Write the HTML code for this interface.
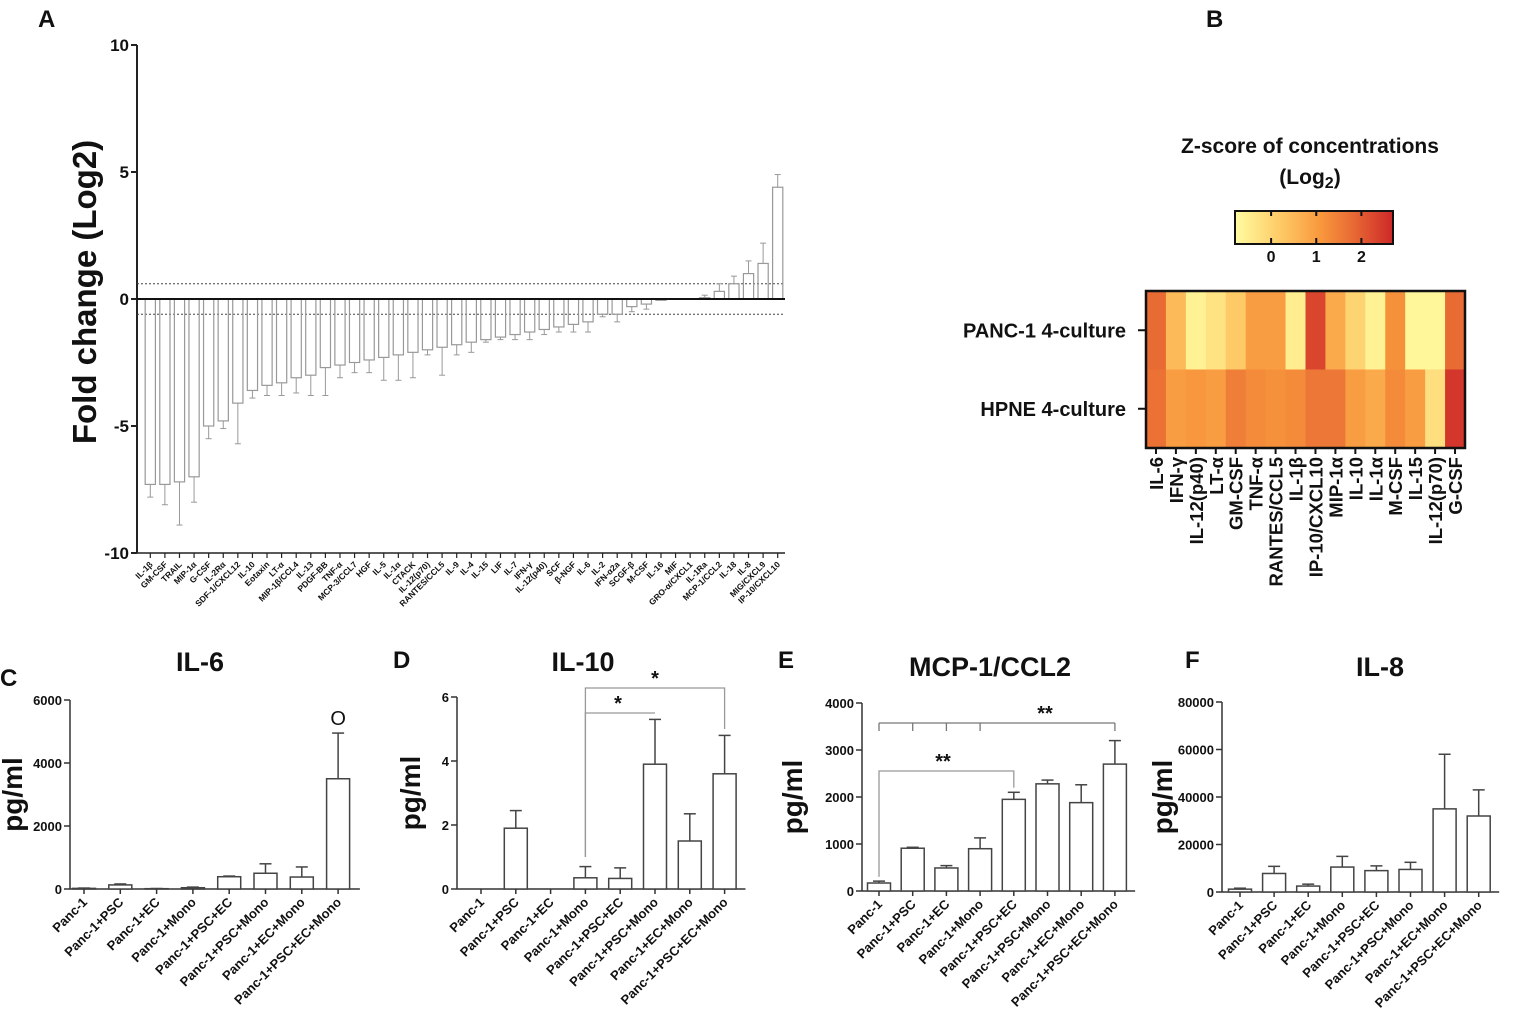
<!DOCTYPE html>
<html><head><meta charset="utf-8">
<style>
body{margin:0;background:#fff;width:1535px;height:1020px;overflow:hidden;font-family:"Liberation Sans",Arial,sans-serif}
svg{position:absolute;left:0;top:0}
text{font-family:"Liberation Sans",Arial,sans-serif;font-weight:bold;fill:#111}
</style></head><body>
<svg id="s" width="1535" height="1020" xmlns="http://www.w3.org/2000/svg"></svg>
<script>
// Panel A data
const aCats=["IL-1β","GM-CSF","TRAIL","MIP-1α","G-CSF","IL-2Rα","SDF-1/CXCL12","IL-10","Eotaxin","LT-α","MIP-1β/CCL4","IL-13","PDGF-BB","TNF-α","MCP-3/CCL7","HGF","IL-5","IL-1α","CTACK","IL-12(p70)","RANTES/CCL5","IL-9","IL-4","IL-15","LIF","IL-7","IFN-γ","IL-12(p40)","SCF","β-NGF","IL-6","IL-2","IFN-α2a","SCGF-β","M-CSF","IL-16","MIF","GRO-α/CXCL1","IL-1Ra","MCP-1/CCL2","IL-18","IL-8","MIG/CXCL9","IP-10/CXCL10"];
const aVals=[-7.3,-7.3,-7.2,-7.0,-5.0,-4.8,-4.1,-3.6,-3.4,-3.3,-3.1,-3.0,-2.7,-2.6,-2.5,-2.4,-2.3,-2.2,-2.1,-2.0,-1.9,-1.8,-1.7,-1.6,-1.5,-1.4,-1.3,-1.2,-1.1,-1.0,-0.9,-0.6,-0.6,-0.3,-0.2,-0.05,0,0,0.05,0.3,0.6,1.0,1.4,4.4];
const aErr=[0.5,0.8,1.7,1.0,0.5,0.3,1.6,0.3,0.4,0.5,0.6,0.8,1.1,0.5,0.4,0.5,0.9,1.0,1.0,0.2,1.1,0.4,0.4,0.1,0.1,0.2,0.3,0.2,0.2,0.3,0.4,0.1,0.3,0.2,0.2,0,0,0,0.1,0.3,0.3,0.5,0.8,0.5];
const aTicks=[10,5,0,-5,-10];
// Panel B data
const hCols=["IL-6","IFN-γ","IL-12(p40)","LT-α","GM-CSF","TNF-α","RANTES/CCL5","IL-1β","IP-10/CXCL10","MIP-1α","IL-10","IL-1α","M-CSF","IL-15","IL-12(p70)","G-CSF"];
const hRows=["PANC-1 4-culture","HPNE 4-culture"];
const hRow1=[1.8,0.5,-0.6,-0.3,0.2,1.0,1.0,-0.5,2.3,0.8,0.0,-0.6,1.2,-0.7,-0.7,1.8];
const hRow2=[1.7,1.0,1.1,1.0,1.5,1.3,1.2,1.3,1.6,1.6,1.0,0.8,1.3,1.0,-0.2,2.5];
const cbTicks=[0,1,2];
// Bottom panels
const groups=["Panc-1","Panc-1+PSC","Panc-1+EC","Panc-1+Mono","Panc-1+PSC+EC","Panc-1+PSC+Mono","Panc-1+EC+Mono","Panc-1+PSC+EC+Mono"];
const il6Vals=[20,130,10,40,390,500,380,3500];
const il6Err=[10,30,5,20,20,300,320,1450];
const il6Ticks=[0,2000,4000,6000];
const il10Vals=[0,1.9,0,0.35,0.33,3.9,1.5,3.6];
const il10Err=[0,0.55,0,0.35,0.33,1.4,0.85,1.2];
const il10Ticks=[0,2,4,6];
const mcpVals=[170,910,490,900,1950,2280,1880,2700];
const mcpErr=[40,20,50,230,150,80,380,500];
const mcpTicks=[0,1000,2000,3000,4000];
const il8Vals=[1200,7800,2500,10500,9000,9500,35000,32000];
const il8Err=[400,3000,800,4500,2000,3000,23000,11000];
const il8Ticks=[0,20000,40000,60000,80000];

const S=document.getElementById('s');const NS="http://www.w3.org/2000/svg";
function el(tag,attrs,txt){const e=document.createElementNS(NS,tag);for(const k in attrs)e.setAttribute(k,attrs[k]);if(txt!==undefined)e.textContent=txt;S.appendChild(e);return e;}
function line(x1,y1,x2,y2,c,w,extra){return el('line',Object.assign({x1,y1,x2,y2,stroke:c||'#222','stroke-width':w||2},extra||{}));}

// Panel letters
[["A",38,27],["B",1206,27],["C",0,686],["D",393,668],["E",778,668],["F",1185,668]].forEach(p=>{
 const t=el('text',{x:p[1],y:p[2],'font-size':24},p[0]);
 
 
});

// ---- Panel A ----
const aX0=137,aX1=785,aY0=299,aPU=25.4;
const ay=v=>aY0-v*aPU;
const aStep=(aX1-aX0-6)/aCats.length;
const ax=i=>aX0+6+aStep*(i+0.5);
line(aX0,ay(10),aX0,ay(-10),'#222',2);
aTicks.forEach(t=>{line(aX0-6,ay(t),aX0,ay(t),'#222',2);
 const tt=el('text',{x:aX0-8,y:ay(t)+6,'font-size':17,'text-anchor':'end'},t);
 });
line(aX0,ay(-10),aX1,ay(-10),'#222',1.5);
[0.6,-0.6].forEach(v=>line(aX0,ay(v),aX1,ay(v),'#444',1,{'stroke-dasharray':'2,2'}));
aCats.forEach((c,i)=>{
 const x=ax(i),v=aVals[i],w=aStep*0.7;
 const r=el('rect',{x:x-w/2,y:Math.min(ay(v),aY0),width:w,height:Math.abs(ay(v)-aY0),fill:'none',stroke:'#999','stroke-width':1.2});
 
 const e=aErr[i];if(e>0){const ye=ay(v+(v<0?-e:e));line(x,ay(v),x,ye,'#999',1);line(x-3,ye,x+3,ye,'#999',1);}
 line(x,ay(-10),x,ay(-10)+5,'#222',1.2);
 const t=el('text',{x:x+3,y:ay(-10)+12,'font-size':8.5,'text-anchor':'end',transform:`rotate(-45 ${x+3} ${ay(-10)+12})`},c);
 
});
line(aX0,aY0,aX1,aY0,'#111',2);
const ayl=el('text',{x:0,y:0,'font-size':33,'text-anchor':'middle',transform:'translate(96,292) rotate(-90)'},'Fold change (Log2)');


// ---- Panel B heatmap ----
const hx0=1146,hx1=1465,hy0=291,hy1=448;
const cw=(hx1-hx0)/hCols.length,rh=(hy1-hy0)/2;
const zmin=-0.8,zmax=2.7;
const stops=[[0,[255,252,160]],[0.3,[254,200,100]],[0.55,[248,150,60]],[0.75,[232,105,52]],[1,[205,40,40]]];
function col(v){let t=(v-zmin)/(zmax-zmin);t=Math.max(0,Math.min(1,t));
 for(let i=1;i<stops.length;i++){if(t<=stops[i][0]){const a=stops[i-1],b=stops[i];const f=(t-a[0])/(b[0]-a[0]);
 return 'rgb('+a[1].map((c,k)=>Math.round(c+(b[1][k]-c)*f)).join(',')+')';}}return 'rgb(205,40,40)';}
[hRow1,hRow2].forEach((row,r)=>{row.forEach((v,i)=>{
 const c=el('rect',{x:hx0+i*cw,y:hy0+r*rh,width:cw+0.5,height:rh+0.5,fill:col(v)});
 });
 const yy=hy0+rh*(r+0.5);
 line(hx0-8,yy,hx0,yy,'#111',2);
 const t=el('text',{x:hx0-20,y:yy+7,'font-size':20,'text-anchor':'end'},hRows[r]);
 
});
el('rect',{x:hx0,y:hy0,width:hx1-hx0,height:hy1-hy0,fill:'none',stroke:'#111','stroke-width':2.5});
hCols.forEach((c,i)=>{const x=hx0+cw*(i+0.5);line(x,hy1,x,hy1+6,'#111',2);
 const t=el('text',{x:x+7,y:hy1+9,'font-size':18.5,'text-anchor':'end',transform:`rotate(-90 ${x+7} ${hy1+9})`},c);
 });
// colorbar
const cbx0=1235,cbx1=1393,cby=211,cbh=33;
const g=el('defs',{});g.innerHTML='<linearGradient id="cb" x1="0" x2="1"><stop offset="0" stop-color="rgb(255,252,160)"/><stop offset="0.3" stop-color="rgb(254,200,100)"/><stop offset="0.55" stop-color="rgb(248,150,60)"/><stop offset="0.75" stop-color="rgb(232,105,52)"/><stop offset="1" stop-color="rgb(205,40,40)"/></linearGradient>';
const cb=el('rect',{x:cbx0,y:cby,width:cbx1-cbx0,height:cbh,fill:'url(#cb)',stroke:'#111','stroke-width':2});

cbTicks.forEach(t=>{const x=cbx0+(t-zmin)/(zmax-zmin)*(cbx1-cbx0);line(x,cby+cbh-6,x,cby+cbh,'#111',2);line(x,cby,x,cby+5,'#111',2);
 const tt=el('text',{x:x,y:cby+cbh+18,'font-size':16,'text-anchor':'middle'},t);});
const ct=el('text',{x:1310,y:153,'font-size':21,'text-anchor':'middle'},'Z-score of concentrations');

const ct2=el('text',{x:1310,y:184,'font-size':21,'text-anchor':'middle'});ct2.innerHTML='(Log<tspan font-size="16" dy="4">2</tspan><tspan dy="-4">)</tspan>';


// ---- bottom bar charts ----
function barPanel(o){
 const y=v=>o.y0-(v/o.max)*(o.y0-o.ytop);
 const xc=i=>o.first+o.step*i;
 const xEnd=xc(7)+o.step*0.6;
 line(o.ax,y(o.max),o.ax,o.y0,'#333',1.5);
 line(o.ax,o.y0,xEnd,o.y0,'#333',1.5);
 o.ticks.forEach(t=>{line(o.ax-6,y(t),o.ax,y(t),'#333',1.5);
  const tt=el('text',{x:o.ax-8,y:y(t)+5,'font-size':13,'text-anchor':'end'},t);
  });
 groups.forEach((gn,i)=>{const x=xc(i),v=o.vals[i],e=o.err[i],w=23;
  if(v>0){const r=el('rect',{x:x-w/2,y:y(v),width:w,height:o.y0-y(v),fill:'#fff',stroke:'#444','stroke-width':1.5});
   }
  if(e>0){line(x,y(v),x,y(v+e),'#444',1.5);line(x-6,y(v+e),x+6,y(v+e),'#444',1.5);}
  line(x,o.y0,x,o.y0+5,'#333',1.5);
  const t=el('text',{x:x+4,y:o.y0+14,'font-size':13,'text-anchor':'end',transform:`rotate(-45 ${x+4} ${o.y0+14})`},gn);
  });
 const ti=el('text',{x:o.tx,y:o.ty,'font-size':27,'text-anchor':'middle'},o.title);
 
 const yl=el('text',{x:0,y:0,'font-size':28,'text-anchor':'middle',transform:`translate(${o.ylx},${(o.y0+o.ytop)/2}) rotate(-90)`},'pg/ml');
 
 return {y,xc};
}
const C=barPanel({id:'il6',vals:il6Vals,err:il6Err,ticks:il6Ticks,max:6000,y0:889,ytop:700,ax:70,first:84,step:36.3,title:'IL-6',tx:200,ty:671,ylx:22});
const o=el('text',{x:C.xc(7),y:C.y(5200),'font-size':20,'text-anchor':'middle',style:'font-weight:normal'},'O');

const D=barPanel({id:'il10',vals:il10Vals,err:il10Err,ticks:il10Ticks,max:6,y0:889,ytop:697,ax:457,first:481,step:34.8,title:'IL-10',tx:583,ty:671,ylx:420});
const E=barPanel({id:'mcp',vals:mcpVals,err:mcpErr,ticks:mcpTicks,max:4000,y0:891,ytop:703,ax:862,first:879,step:33.7,title:'MCP-1/CCL2',tx:990,ty:676,ylx:802});
const F=barPanel({id:'il8',vals:il8Vals,err:il8Err,ticks:il8Ticks,max:80000,y0:892,ytop:702,ax:1222,first:1240,step:34.1,title:'IL-8',tx:1380,ty:676,ylx:1172});
// significance brackets
function bracket(x1,y1a,x2,y2b,ytop,label,lx){const p=el('polyline',{points:`${x1},${y1a} ${x1},${ytop} ${x2},${ytop} ${x2},${y2b}`,fill:'none',stroke:'#999','stroke-width':1.3});
 
 const t=el('text',{x:lx,y:ytop-3,'font-size':20,'text-anchor':'middle'},label);}
bracket(D.xc(3),D.y(1),D.xc(5),D.y(5.5),713,'*',618);
bracket(D.xc(3),D.y(1),D.xc(7),D.y(5),688,'*',655);
bracket(E.xc(0),E.y(300),E.xc(4),E.y(2200),771,'**',943);
// MCP multi bracket
line(E.xc(0),723,E.xc(7),723,'#777',1.3);
[0,1,2,3].forEach(i=>line(E.xc(i),723,E.xc(i),731,'#777',1.3));
line(E.xc(7),723,E.xc(7),731,'#777',1.3);
const ml=el('text',{x:1045,y:720,'font-size':20,'text-anchor':'middle'},'**');
</script>
</body></html>
